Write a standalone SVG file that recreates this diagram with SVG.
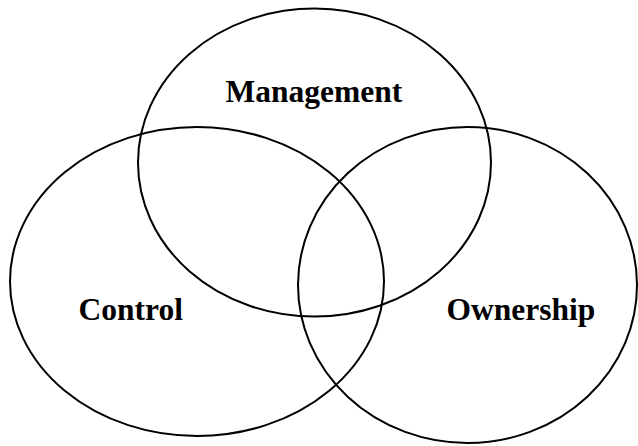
<svg xmlns="http://www.w3.org/2000/svg" width="638" height="446" viewBox="0 0 638 446">
  <style>
    .ring { fill: none; stroke: #000; stroke-width: 2; }
    .label { font-family: "Liberation Serif", "Times New Roman", serif; font-weight: bold; font-size: 31.5px; fill: #000; }
  </style>
  <rect width="638" height="446" fill="#fff"/>
  <g id="management">
    <ellipse class="ring" cx="314.5" cy="162.6" rx="176.5" ry="154"/>
    <text class="label" x="225.5" y="101.5">Management</text>
  </g>
  <g id="control">
    <ellipse class="ring" cx="197" cy="281.5" rx="187" ry="154.5"/>
    <text class="label" x="78.5" y="319.5">Control</text>
  </g>
  <g id="ownership">
    <ellipse class="ring" cx="467.5" cy="285" rx="169.5" ry="158"/>
    <text class="label" x="446.5" y="319.5">Ownership</text>
  </g>
  <g id="connectors"/>
</svg>
